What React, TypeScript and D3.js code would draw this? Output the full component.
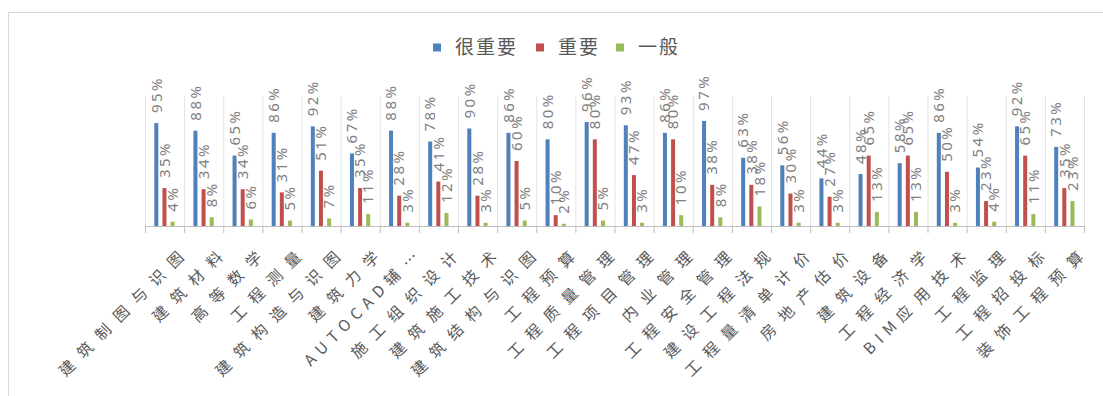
import React from "react";
import * as d3 from "d3";

const categories = [
  "建筑制图与识图", "建筑材料", "高等数学", "工程测量", "建筑构造与识图", "建筑力学",
  "AUTOCAD辅…", "施工组织设计", "建筑施工技术", "建筑结构与识图", "工程预算", "工程质量管理",
  "工程项目管理", "内业管理", "工程安全管理", "建设工程法规", "工程量清单计价", "房地产估价",
  "建筑设备", "工程经济学", "BIM应用技术", "工程监理", "工程招投标", "装饰工程预算",
];
const veryImportant = [95, 88, 65, 86, 92, 67, 88, 78, 90, 86, 80, 96, 93, 86, 97, 63, 56, 44, 48, 58, 86, 54, 92, 73];
const important = [35, 34, 34, 31, 51, 35, 28, 41, 28, 60, 10, 80, 47, 80, 38, 38, 30, 27, 65, 65, 50, 23, 65, 35];
const general = [4, 8, 6, 5, 7, 11, 3, 12, 3, 5, 2, 5, 3, 10, 8, 18, 3, 3, 13, 13, 3, 4, 11, 23];
const seriesNames = ["很重要", "重要", "一般"];
const seriesColors = ["#4F81BD", "#C0504D", "#9BBB59"];
const seriesData = [veryImportant, important, general];

function splitRuns(s: string) {
  const runs: { t: string; latin: boolean }[] = [];
  for (const ch of s) {
    const latin = /[A-Za-z0-9]/.test(ch);
    const last = runs[runs.length - 1];
    if (last && last.latin === latin) last.t += ch;
    else runs.push({ t: ch, latin });
  }
  return runs;
}

export default function App() {
  const W = 1103, H = 396;
  const x0 = d3.scaleBand<string>().domain(categories).range([145, 1084]).padding(0);
  const x1 = d3.scaleBand<string>().domain(seriesNames).range([9.3, 29.6]).paddingInner(0.506).paddingOuter(0);
  const y = d3.scaleLinear().domain([0, 120]).range([226, 96]);
  const bw = x1.bandwidth();
  const bounds = categories.map((c) => x0(c)!).concat([x0.range()[1]]);

  const legendItems = [
    { name: seriesNames[0], sx: 433, tx: 455 },
    { name: seriesNames[1], sx: 536, tx: 558 },
    { name: seriesNames[2], sx: 616, tx: 638 },
  ];

  return (
    <svg width={W} height={H} style={{ position: "absolute", left: 0, top: 0, background: "#fff" }}>
      <rect x={0} y={0} width={W} height={H} fill="#fff" />
      <line x1={8.5} y1={12.5} x2={W} y2={12.5} stroke="#d9d9d9" />
      <line x1={8.5} y1={12.5} x2={8.5} y2={H} stroke="#d9d9d9" />
      {bounds.map((b, i) => (
        <line key={"g" + i} x1={b + 0.5} x2={b + 0.5} y1={y(120)} y2={y(0)} stroke="#e3e3e3" />
      ))}
      {seriesData.map((arr, si) =>
        arr.map((v, i) => (
          <rect key={`b${si}-${i}`} x={x0(categories[i])! + x1(seriesNames[si])!} y={y(v)} width={bw} height={y(0) - y(v)} fill={seriesColors[si]} />
        ))
      )}
      <line x1={145} x2={1084} y1={226.5} y2={226.5} stroke="#bfbfbf" />
      {bounds.map((b, i) => (
        <line key={"t" + i} x1={b + 0.5} x2={b + 0.5} y1={226} y2={233} stroke="#bfbfbf" />
      ))}
      {seriesData.map((arr, si) =>
        arr.map((v, i) => {
          const cx = x0(categories[i])! + x1(seriesNames[si])! + bw / 2;
          const ty = y(v) - 10;
          return (
            <text key={`l${si}-${i}`} transform={`translate(${cx},${ty}) rotate(-90)`} dy="0.35em"
              fontSize={15} fontFamily="'Noto Sans', sans-serif" letterSpacing={2.5} fill="#808080">
              {v + "%"}
            </text>
          );
        })
      )}
      {categories.map((c, i) => {
        const cx = x0(c)! + x0.bandwidth() / 2;
        return (
          <text key={"x" + i} transform={`translate(${cx + 19},${243}) rotate(-45)`} dy="0.75em" textAnchor="end"
            fontSize={15.5} fontFamily="'Noto Sans CJK SC', sans-serif" letterSpacing={10} fill="#595959">
            {splitRuns(c).map((r, k) => (
              <tspan key={k} letterSpacing={r.latin ? 6 : 10}>{r.t}</tspan>
            ))}
          </text>
        );
      })}
      {legendItems.map((it, i) => (
        <g key={"lg" + i}>
          <rect x={it.sx} y={43.5} width={8} height={8} fill={seriesColors[i]} />
          <text x={it.tx} y={47.5} dy="0.35em" fontSize={19} fontFamily="'Noto Sans CJK SC', sans-serif" letterSpacing={2} fill="#595959">
            {it.name}
          </text>
        </g>
      ))}
    </svg>
  );
}
